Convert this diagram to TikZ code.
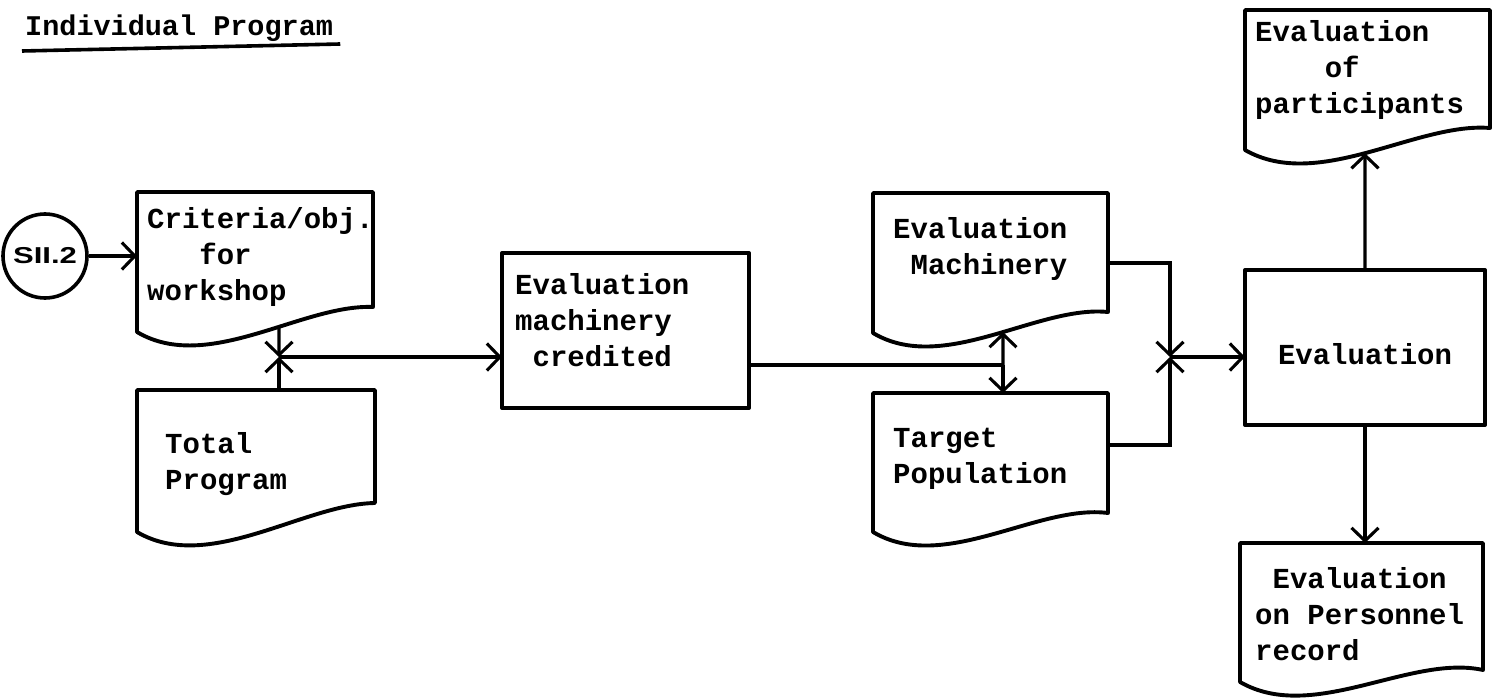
\documentclass[tikz,border=0pt]{standalone}
\usepackage{fontspec}
\usepackage{graphicx}
\setmonofont{Liberation Mono}
\newfontfamily\handfont{Liberation Sans}
\usetikzlibrary{arrows.meta,calc,intersections}
\newcommand\ml[1]{\parbox[t]{330pt}{\raggedright #1}}
\newcommand\docpath[3]{%
  \draw[boxline, name path=#1-p] (#1.south west) -- (#1.north west) -- (#1.north east)
    -- ($(#1.south east)+(0,-#3)$) .. controls +({-0.3*#2},{#3-28}) and +({0.3*#2},42) .. (#1.south west) -- cycle;}
\begin{document}
\begin{tikzpicture}[x=1pt,y=-1pt,
  boxline/.style={line width=3.9pt, line join=round},
  conn/.style={line width=3.1pt},
  arr/.style={conn, -{Straight Barb[length=13pt,width=27pt]}},
  txt/.style={font=\fontsize{29}{36}\selectfont\ttfamily\bfseries, inner sep=0pt, anchor=base west},
  docn/.style={inner sep=0pt, outer sep=0pt, anchor=north west, draw=none},
  procbox/.style={boxline, draw, inner sep=0pt, outer sep=0pt, anchor=north west},
]
\useasboundingbox (0,0) rectangle (1502,698);

% title
\node[txt, font=\fontsize{28.5}{36}\selectfont\ttfamily\bfseries] (title) at (25,36) {Individual Program};
\draw[line width=3.6pt] ($(title.base west)+(-3,15)$) -- ($(title.base east)+(7,8)$);

% start circle
\node[circle, draw, line width=3.6pt, minimum size=84pt, inner sep=0pt] (sii) at (45,256)
  {\scalebox{1.35}[1]{\handfont\bfseries\fontsize{23}{23}\selectfont SII.2}};

% document-shaped boxes
\node[docn, minimum width=236pt, minimum height=140pt] (crit) at (137,192) {};
\docpath{crit}{236}{25}
\node[txt] (critT) at (147,228) {\ml{Criteria/obj.\\\hspace*{1.8em}for\\workshop}};

\node[docn, minimum width=238pt, minimum height=142pt] (tot) at (137,390) {};
\docpath{tot}{238}{29}
\node[txt] (totT) at (165,453) {\ml{Total\\Program}};

\node[docn, minimum width=235pt, minimum height=140pt] (em) at (873,193) {};
\docpath{em}{235}{21}
\node[txt] (emT) at (893,238) {\ml{Evaluation\\\hspace*{0.6em}Machinery}};

\node[docn, minimum width=235pt, minimum height=139pt] (tp) at (873,393) {};
\docpath{tp}{235}{19}
\node[txt] (tpT) at (893,447) {\ml{Target\\Population}};

\node[docn, minimum width=245pt, minimum height=140pt] (par) at (1245,10) {};
\docpath{par}{245}{22}
\node[txt] (parT) at (1255,42) {\ml{Evaluation\\\hspace*{2.4em}of\\participants}};

\node[docn, minimum width=243pt, minimum height=139pt] (per) at (1240,543) {};
\docpath{per}{243}{12}
\node[txt] (perT) at (1255,588) {\ml{\hspace*{0.6em}Evaluation\\on Personnel\\record}};

% process boxes
\node[procbox, minimum width=247pt, minimum height=155pt] (cred) at (502,253) {};
\node[txt] (credT) at (515,294) {\ml{Evaluation\\machinery\\\hspace*{0.6em}credited}};

\node[procbox, minimum width=240pt, minimum height=155pt] (ev) at (1245,270) {};
\node[txt, anchor=base] (evT) at (1365,364) {Evaluation};

% connectors
\draw[arr] (sii.east) -- (sii.east -| crit.west);

\coordinate (j1) at (279,357);
\path[name path=vcrit] (j1) -- ++(0,-60);
\draw[arr, name intersections={of=crit-p and vcrit, by=critb}] (critb) -- (j1);
\draw[arr] (tot.north -| j1) -- (j1);
\draw[arr] (j1) -- (j1 -| cred.west);

\coordinate (j2) at (1003,365);
\draw[conn] (cred.east |- j2) -- (j2);
\path[name path=vem] (j2) -- ++(0,-60);
\draw[arr, name intersections={of=em-p and vem, by=emb}] (j2) -- (emb);
\draw[arr] (j2) -- (j2 |- tp.north);

\coordinate (j3) at (1170,357);
\draw[arr] ($(em.north east)+(0,70)$) -| (j3);
\draw[arr] ($(tp.north east)+(0,52)$) -| (j3);
\draw[arr] (j3) -- (j3 -| ev.west);

\path[name path=vpar] (ev.north) -- ++(0,-200);
\draw[arr, name intersections={of=par-p and vpar, by=parb}] (ev.north) -- (parb);
\draw[arr] (ev.south) -- (ev.south |- per.north);
\end{tikzpicture}
\end{document}
